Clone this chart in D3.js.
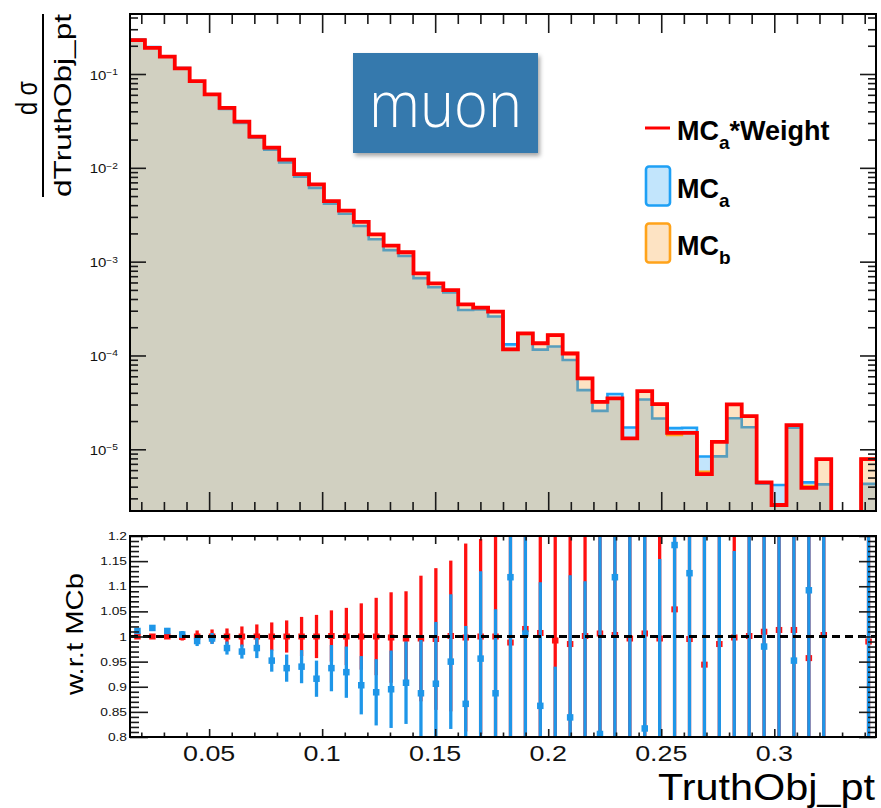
<!DOCTYPE html>
<html>
<head>
<meta charset="utf-8">
<script src="https://cdn.jsdelivr.net/npm/d3@7"></script>
<style>
  body { margin: 0; background: #fff; }
  svg { display: block; }
  text { font-family: "Liberation Sans", Arial, Helvetica, sans-serif; }
</style>
</head>
<body>
<svg></svg>
<script>
// histogram binning
const xLow = 0.015, xHigh = 0.345, nBins = 50
const binEdges = d3.range(nBins + 1).map(i => xLow + (xHigh - xLow) * i / nBins)

// top panel: MC_a*Weight (red), MC_b (orange), MC_a (blue)
const mcAW = [0.230, 0.190, 0.153, 0.115, 0.084, 0.0608, 0.0435, 0.0310, 0.0215, 0.0164,
  0.0122, 0.00855, 0.00667, 0.00442, 0.00349, 0.00266, 0.00195, 0.00148, 0.00126, 0.00075,
  0.000586, 0.000497, 0.000351, 0.000323, 0.000293, 0.000116, 0.000172, 0.000135, 0.000165, 0.000105,
  5.70e-5, 3.21e-5, 3.49e-5, 1.31e-5, 4.17e-5, 3.03e-5, 1.50e-5, 1.50e-5, 5.45e-6, 1.20e-5,
  3.01e-5, 2.26e-5, 4.44e-6, 2.55e-6, 1.81e-5, 3.89e-6, 7.85e-6, 0, 0, 7.85e-6]
const mcB = [0.230, 0.190, 0.153, 0.1151, 0.084, 0.0608, 0.0435, 0.0310, 0.0215, 0.0164,
  0.0122, 0.00855, 0.00667, 0.00442, 0.00349, 0.00266, 0.00195, 0.001483, 0.001265, 0.000753,
  0.000589, 0.000496, 0.000352, 0.000323, 0.000293, 0.0001174, 0.0001695, 0.000134, 0.0001663, 0.0001066,
  5.69e-5, 3.19e-5, 3.48e-5, 1.315e-5, 4.15e-5, 3.04e-5, 1.423e-5, 1.508e-5, 5.77e-6, 1.218e-5,
  3.016e-5, 2.258e-5, 4.40e-6, 2.52e-6, 1.787e-5, 4.065e-6, 7.83e-6, 0, 0, 7.93e-6]
const mcA = [0.2325, 0.1932, 0.1547, 0.1156, 0.0832, 0.06056, 0.0425, 0.03007, 0.0210, 0.01561,
  0.01143, 0.00804, 0.00611, 0.00414, 0.00324, 0.00240, 0.00173, 0.001327, 0.001149, 0.000668,
  0.000534, 0.000471, 0.000305, 0.000309, 0.000260, 0.0001313, 0.0001705, 0.0001155, 0.0001247, 0.0000894,
  4.27e-5, 2.57e-5, 3.89e-5, 1.71e-5, 3.39e-5, 2.13e-5, 1.682e-5, 1.698e-5, 8.37e-6, 8.40e-6,
  2.14e-5, 1.716e-5, 4.31e-6, 4.16e-6, 1.70e-5, 4.44e-6, 4.23e-6, 0, 0, 4.28e-6]

// bottom panel: ratios to MC_b with errors
const ratioA = [1.011, 1.017, 1.011, 1.004, 0.991, 0.996, 0.977, 0.970, 0.977, 0.952,
  0.937, 0.940, 0.916, 0.937, 0.929, 0.903, 0.889, 0.895, 0.908, 0.887,
  0.906, 0.950, 0.866, 0.956, 0.887, 1.118, 1.006, 0.862, 0.75, 0.839,
  0.75, 0.806, 1.118, 1.30, 0.817, 0.70, 1.182, 1.126, 1.45, 0.69,
  0.71, 0.76, 0.98, 1.65, 0.952, 1.092, 0.54, null, null, 0.54]
const errA = [0.004, 0.005, 0.006, 0.007, 0.010, 0.011, 0.013, 0.014, 0.020, 0.022,
  0.027, 0.033, 0.036, 0.046, 0.051, 0.058, 0.066, 0.077, 0.082, 0.106,
  0.123, 0.134, 0.155, 0.174, 0.167, 0.40, 0.30, 0.246, 0.19, 0.283,
  0.36, 0.45, 0.45, 0.60, 0.45, 0.454, 0.50, 0.50, 0.70, 0.60,
  0.46, 0.60, 0.40, 0.90, 0.40, 0.50, 0.80, null, null, 0.80]
const ratioW = [1.0, 1.0, 1.0, 0.999, 1.0, 1.0, 1.0, 1.0, 1.0, 1.0,
  1.0, 1.0, 1.0, 1.001, 1.0, 1.0, 1.0, 0.998, 0.996, 0.996,
  0.995, 1.001, 0.998, 1.0, 1.0, 0.988, 1.015, 1.007, 0.992, 0.985,
  1.001, 1.006, 1.003, 0.996, 1.006, 0.996, 1.054, 0.995, 0.944, 0.985,
  0.998, 1.001, 1.0095, 1.013, 1.013, 0.957, 1.003, null, null, 0.99]
const errW = [0.003, 0.004, 0.005, 0.007, 0.012, 0.014, 0.016, 0.020, 0.024, 0.028,
  0.032, 0.039, 0.043, 0.051, 0.057, 0.066, 0.077, 0.090, 0.094, 0.125,
  0.141, 0.150, 0.187, 0.194, 0.22, 0.30, 0.30, 0.30, 0.30, 0.35,
  0.35, 0.45, 0.45, 0.45, 0.45, 0.45, 0.50, 0.50, 0.50, 0.50,
  0.50, 0.50, 0.50, 0.60, 0.50, 0.60, 0.60, null, null, 0.60]

// ticks and labels
const xMajor = [0.05, 0.1, 0.15, 0.2, 0.25, 0.3]
const xTickLabels = ['0.05', '0.1', '0.15', '0.2', '0.25', '0.3']
const xMinor = d3.range(2, 35).map(i => i / 100)
const logDecades = [-1, -2, -3, -4, -5]
const ratioMajor = [0.8, 0.85, 0.9, 0.95, 1, 1.05, 1.1, 1.15, 1.2]
const ratioTickLabels = ['0.8', '0.85', '0.9', '0.95', '1', '1.05', '1.1', '1.15', '1.2']
const ratioMinor = d3.range(80, 121).map(i => i / 100)

const width = 881, height = 808
const svg = d3.select('svg').attr('width', width).attr('height', height)

const left = 130, right = 876
const topY0 = 14, topY1 = 511
const ratY0 = 536, ratY1 = 737

const x = d3.scaleLinear().domain([xLow, xHigh]).range([left, right])
const yTop = d3.scaleLog().domain([2.2e-6, 0.436]).range([topY1, topY0])
const yRat = d3.scaleLinear().domain([0.8, 1.2]).range([ratY1, ratY0])

const defs = svg.append('defs')
defs.append('clipPath').attr('id', 'clipTop').append('rect')
  .attr('x', left).attr('y', topY0).attr('width', right - left).attr('height', topY1 - topY0)
defs.append('clipPath').attr('id', 'clipRat').append('rect')
  .attr('x', left).attr('y', ratY0).attr('width', right - left).attr('height', ratY1 - ratY0)
const shadow = defs.append('filter').attr('id', 'shadow')
  .attr('x', '-10%').attr('y', '-10%').attr('width', '130%').attr('height', '140%')
shadow.append('feDropShadow').attr('dx', 2).attr('dy', 3).attr('stdDeviation', 2)
  .attr('flood-color', '#000').attr('flood-opacity', 0.35)

// ---------- top panel ----------
function stepPoints(values) {
  return values.flatMap((v, i) => [[binEdges[i], v], [binEdges[i + 1], v]])
}
const yv = v => v > 0 ? yTop(v) : topY1 + 10
const area = d3.area().x(d => x(d[0])).y0(topY1 + 10).y1(d => yv(d[1]))
const line = d3.line().x(d => x(d[0])).y(d => yv(d[1]))

const hist = svg.append('g').attr('clip-path', 'url(#clipTop)')
hist.append('path').attr('d', area(stepPoints(mcA))).attr('fill', '#c2e5fc')
hist.append('path').attr('d', line(stepPoints(mcA)))
  .attr('fill', 'none').attr('stroke', '#1ea0f5').attr('stroke-width', 2.6)
hist.append('path').attr('d', area(stepPoints(mcB)))
  .attr('fill', '#f89b29').attr('fill-opacity', 0.28)
hist.append('path').attr('d', line(stepPoints(mcB)))
  .attr('fill', 'none').attr('stroke', '#ffa31a').attr('stroke-width', 2.4)
hist.append('path').attr('d', line(stepPoints(mcAW)))
  .attr('fill', 'none').attr('stroke', '#ff0000').attr('stroke-width', 3.8)

function tickAxis(g, axisFn, scale, values, size) {
  g.call(axisFn(scale).tickValues(values).tickSize(size).tickFormat(''))
  g.select('.domain').remove()
  g.selectAll('.tick line').attr('stroke', '#1a1a1a').attr('stroke-width', 1.6)
}

const logMajor = logDecades.map(k => Math.pow(10, k))
const logMinor = []
for (let k = -6; k <= -1; k++) {
  for (let m = 2; m <= 9; m++) {
    const v = m * Math.pow(10, k)
    if (v > 2.2e-6 && v < 0.436) logMinor.push(v)
  }
}

const axes = svg.append('g')
tickAxis(axes.append('g').attr('transform', `translate(${left},0)`), d3.axisRight, yTop, logMajor, 16)
tickAxis(axes.append('g').attr('transform', `translate(${left},0)`), d3.axisRight, yTop, logMinor, 8)
tickAxis(axes.append('g').attr('transform', `translate(${right},0)`), d3.axisLeft, yTop, logMajor, 16)
tickAxis(axes.append('g').attr('transform', `translate(${right},0)`), d3.axisLeft, yTop, logMinor, 8)
tickAxis(axes.append('g').attr('transform', `translate(0,${topY1})`), d3.axisTop, x, xMajor, 19)
tickAxis(axes.append('g').attr('transform', `translate(0,${topY1})`), d3.axisTop, x, xMinor.filter(v => !xMajor.includes(v)), 9)
tickAxis(axes.append('g').attr('transform', `translate(0,${topY0})`), d3.axisBottom, x, xMajor, 19)
tickAxis(axes.append('g').attr('transform', `translate(0,${topY0})`), d3.axisBottom, x, xMinor.filter(v => !xMajor.includes(v)), 10)

svg.append('rect').attr('x', left).attr('y', topY0).attr('width', right - left).attr('height', topY1 - topY0)
  .attr('fill', 'none').attr('stroke', '#000').attr('stroke-width', 2)

// log labels 10^-k
logDecades.forEach(k => {
  const t = svg.append('text')
    .attr('transform', `translate(118,${yTop(Math.pow(10, k)) + 5.5}) scale(1.2,1)`)
    .attr('text-anchor', 'end').attr('font-size', 12.5).attr('fill', '#111')
  t.append('tspan').text('10')
  t.append('tspan').attr('dy', -4.5).attr('font-size', 8.5).text('\u2212' + (-k))
})

// y title (fraction)
svg.append('line').attr('x1', 43).attr('x2', 43).attr('y1', 14).attr('y2', 197)
  .attr('stroke', '#000').attr('stroke-width', 2)
svg.append('text').attr('transform', 'translate(37,115) rotate(-90)')
  .attr('font-size', 30).attr('textLength', 34).attr('lengthAdjust', 'spacingAndGlyphs')
  .text('d \u03c3')
svg.append('text').attr('transform', 'translate(71,197) rotate(-90)')
  .attr('font-size', 24.5).attr('textLength', 183).attr('lengthAdjust', 'spacingAndGlyphs')
  .text('dTruthObj_pt')

// muon box
svg.append('rect').attr('x', 353).attr('y', 53).attr('width', 185).attr('height', 100)
  .attr('fill', '#3579ad').attr('filter', 'url(#shadow)')
svg.append('text').attr('x', 369).attr('y', 126.7)
  .style('font-family', '"Open Sans", sans-serif').attr('font-weight', 300)
  .attr('font-size', 64).attr('textLength', 153).attr('lengthAdjust', 'spacingAndGlyphs')
  .attr('fill', '#fff').text('muon')

// legend
const legend = svg.append('g').attr('font-weight', 'bold').attr('fill', '#000')
legend.append('line').attr('x1', 645).attr('x2', 670).attr('y1', 128).attr('y2', 128)
  .attr('stroke', '#ff0000').attr('stroke-width', 3)
legend.append('rect').attr('x', 646).attr('y', 166.5).attr('width', 24).attr('height', 39).attr('rx', 3)
  .attr('fill', '#c2e5fc').attr('stroke', '#1ea0f5').attr('stroke-width', 2.6)
legend.append('rect').attr('x', 646).attr('y', 223.5).attr('width', 24).attr('height', 39).attr('rx', 3)
  .attr('fill', '#fde3c3').attr('stroke', '#ffa31a').attr('stroke-width', 2.6)
const legendRows = [
  { base: 140, sub: 'a', tail: '*Weight' },
  { base: 197.7, sub: 'a', tail: '' },
  { base: 254.5, sub: 'b', tail: '' }
]
legendRows.forEach(r => {
  const t = legend.append('text').attr('x', 677).attr('y', r.base).attr('font-size', 27)
  t.append('tspan').text('MC')
  t.append('tspan').attr('dy', 9).attr('font-size', 19).text(r.sub)
  if (r.tail) t.append('tspan').attr('dy', -9).attr('font-size', 27).text(r.tail)
})

// ---------- ratio panel ----------
const centers = d3.range(nBins).map(i => (binEdges[i] + binEdges[i + 1]) / 2)
const ptsW = centers.map((c, i) => ({ c, v: ratioW[i], e: errW[i] })).filter(d => d.v !== null)
const ptsA = centers.map((c, i) => ({ c, v: ratioA[i], e: errA[i] })).filter(d => d.v !== null)

const rat = svg.append('g').attr('clip-path', 'url(#clipRat)')
function drawPoints(pts, color, mw, mh) {
  rat.append('g').selectAll('line').data(pts).join('line')
    .attr('x1', d => x(d.c)).attr('x2', d => x(d.c))
    .attr('y1', d => yRat(d.v - d.e)).attr('y2', d => yRat(d.v + d.e))
    .attr('stroke', color).attr('stroke-width', 3.3)
  rat.append('g').selectAll('rect').data(pts).join('rect')
    .attr('x', d => x(d.c) - mw / 2).attr('y', d => yRat(d.v) - mh / 2)
    .attr('width', mw).attr('height', mh).attr('fill', color)
}
drawPoints(ptsW, '#ff1010', 6.5, 6)
drawPoints(ptsA, '#1e96e8', 6.5, 6.5)

rat.append('line').attr('x1', left).attr('x2', right).attr('y1', yRat(1)).attr('y2', yRat(1))
  .attr('stroke', '#000').attr('stroke-width', 3).attr('stroke-dasharray', '8,5')

const rAxes = svg.append('g')
const rMinor = ratioMinor.filter(v => !ratioMajor.some(m => Math.abs(m - v) < 1e-9))
tickAxis(rAxes.append('g').attr('transform', `translate(${left},0)`), d3.axisRight, yRat, ratioMajor, 18)
tickAxis(rAxes.append('g').attr('transform', `translate(${left},0)`), d3.axisRight, yRat, rMinor, 9)
tickAxis(rAxes.append('g').attr('transform', `translate(${right},0)`), d3.axisLeft, yRat, ratioMajor, 17)
tickAxis(rAxes.append('g').attr('transform', `translate(${right},0)`), d3.axisLeft, yRat, rMinor, 8)
tickAxis(rAxes.append('g').attr('transform', `translate(0,${ratY1})`), d3.axisTop, x, xMajor, 8)
tickAxis(rAxes.append('g').attr('transform', `translate(0,${ratY1})`), d3.axisTop, x, xMinor.filter(v => !xMajor.includes(v)), 4.5)
tickAxis(rAxes.append('g').attr('transform', `translate(0,${ratY0})`), d3.axisBottom, x, xMajor, 8)
tickAxis(rAxes.append('g').attr('transform', `translate(0,${ratY0})`), d3.axisBottom, x, xMinor.filter(v => !xMajor.includes(v)), 4.5)

svg.append('rect').attr('x', left).attr('y', ratY0).attr('width', right - left).attr('height', ratY1 - ratY0)
  .attr('fill', 'none').attr('stroke', '#000').attr('stroke-width', 2)

ratioMajor.forEach((v, i) => {
  svg.append('text').attr('transform', `translate(127,${yRat(v) + 4}) scale(1.25,1)`)
    .attr('text-anchor', 'end').attr('font-size', 11).attr('fill', '#111')
    .text(ratioTickLabels[i])
})
xMajor.forEach((v, i) => {
  svg.append('text').attr('transform', `translate(${x(v)},761) scale(1.22,1)`)
    .attr('text-anchor', 'middle').attr('font-size', 22).attr('fill', '#111')
    .text(xTickLabels[i])
})

svg.append('text').attr('transform', 'translate(83,695) rotate(-90)')
  .attr('font-size', 24.5).attr('textLength', 122).attr('lengthAdjust', 'spacingAndGlyphs')
  .text('w.r.t MCb')
svg.append('text').attr('x', 658).attr('y', 800)
  .attr('font-size', 37).attr('textLength', 217).attr('lengthAdjust', 'spacingAndGlyphs')
  .text('TruthObj_pt')
</script>
</body>
</html>
